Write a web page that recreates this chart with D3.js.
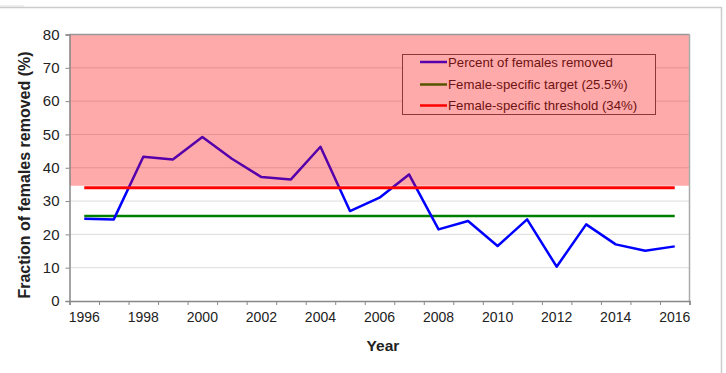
<!DOCTYPE html>
<html><head><meta charset="utf-8">
<script src="https://d3js.org/d3.v7.min.js"></script>
<style>body{margin:0;background:#fff}svg{display:block;font-family:"Liberation Sans",Arial,sans-serif}</style>
</head><body><svg id="c" width="726" height="373"></svg>
<script>
const years = [1996,1997,1998,1999,2000,2001,2002,2003,2004,2005,2006,2007,2008,2009,2010,2011,2012,2013,2014,2015,2016];
const removed = [24.7,24.5,43.3,42.5,49.2,42.7,37.2,36.5,46.3,27.0,31.0,38.0,21.5,24.0,16.5,24.5,10.3,23.0,17.0,15.1,16.4];
const target = 25.5;
const threshold = 34;
const yTicks = [0,10,20,30,40,50,60,70,80];
const xLabels = [1996,1998,2000,2002,2004,2006,2008,2010,2012,2014,2016];
const legendLabels = ["Percent of females removed","Female-specific target (25.5%)","Female-specific threshold (34%)"];

const svg = d3.select("#c");
const L = 69.5, R = 689.5, T = 34.5, B = 301;
const x = d3.scaleBand().domain(years).range([L, R]).padding(0);
const xb = d3.scaleLinear().domain([0, years.length]).range([L, R]);
const y = d3.scaleLinear().domain([0, 80]).range([B, T]);
const cx = d => x(d) + x.bandwidth() / 2;

// outer frame
svg.append("line").attr("x1",0).attr("x2",722).attr("y1",7.5).attr("y2",7.5).attr("stroke","#ccc").attr("stroke-width",1.5);
svg.append("line").attr("x1",0).attr("x2",24).attr("y1",6).attr("y2",6).attr("stroke","#ddd").attr("stroke-width",1);
svg.append("line").attr("x1",721.5).attr("x2",721.5).attr("y1",7).attr("y2",373).attr("stroke","#ccc").attr("stroke-width",1.5);

// gridlines
svg.append("g").selectAll("line").data(yTicks.filter(v => v > 0 && v < 80)).join("line")
  .attr("x1", L).attr("x2", R).attr("y1", d => y(d)).attr("y2", d => y(d))
  .attr("stroke", "#dcdcdc").attr("stroke-width", 1);

// target line
svg.append("line").attr("x1", cx(years[0])).attr("x2", cx(years[years.length-1]))
  .attr("y1", y(target)).attr("y2", y(target)).attr("stroke", "#008000").attr("stroke-width", 2.5);

// data line
svg.append("path").datum(years.map((yr,i)=>[yr, removed[i]]))
  .attr("fill","none").attr("stroke","#0000ff").attr("stroke-width",2.5).attr("stroke-linejoin","round")
  .attr("d", d3.line().x(d => cx(d[0])).y(d => y(d[1])));

// legend
const lg = svg.append("g");
lg.append("rect").attr("x",402.5).attr("y",54.5).attr("width",253).attr("height",60)
  .attr("fill","#fff").attr("stroke","#555").attr("stroke-width",1);
const lgColors = ["#0000ff","#008000","#ff0000"];
const lgRows = [62, 84.5, 105.5];
legendLabels.forEach((t,i) => {
  const yy = lgRows[i];
  lg.append("line").attr("x1",420).attr("x2",447).attr("y1",yy).attr("y2",yy)
    .attr("stroke",lgColors[i]).attr("stroke-width",2.5);
  lg.append("text").attr("x",448).attr("y",yy+4.8).attr("font-size",13.2).attr("fill","#222").text(t);
});

// threshold line
svg.append("line").attr("x1", cx(years[0])).attr("x2", cx(years[years.length-1]))
  .attr("y1", y(threshold)).attr("y2", y(threshold)).attr("stroke", "#ff0000").attr("stroke-width", 3);

// pink overlay
svg.append("rect").attr("x", L).attr("y", T).attr("width", R - L).attr("height", y(34.6) - T)
  .attr("fill", "#ff0000").attr("fill-opacity", 0.333);

// plot border top/right
svg.append("line").attr("x1",L).attr("x2",R).attr("y1",T).attr("y2",T).attr("stroke","#999").attr("stroke-width",1.5);
svg.append("line").attr("x1",R).attr("x2",R).attr("y1",T).attr("y2",B).attr("stroke","#aaa").attr("stroke-width",1.5);

// y axis
const ya = svg.append("g").attr("transform",`translate(${L},0)`)
  .call(d3.axisLeft(y).tickValues(yTicks).tickSize(4).tickPadding(6));
ya.select(".domain").attr("stroke","#888").attr("stroke-width",1.5);
ya.selectAll(".tick line").attr("stroke","#888");
ya.selectAll("text").attr("font-size",15).attr("fill","#222").attr("font-family","Liberation Sans, Arial, sans-serif");

// x axis: tick marks at band boundaries
const xa = svg.append("g").attr("transform",`translate(0,${B})`)
  .call(d3.axisBottom(xb).tickValues(d3.range(0, years.length+1)).tickSize(4).tickFormat(""));
xa.select(".domain").attr("stroke","#888").attr("stroke-width",1.5);
xa.selectAll(".tick line").attr("stroke","#888");
const xl = svg.append("g").attr("transform",`translate(0,${B})`)
  .call(d3.axisBottom(x).tickValues(xLabels).tickSize(0).tickPadding(11));
xl.select(".domain").remove();
xl.selectAll("text").attr("font-size",14).attr("fill","#222").attr("font-family","Liberation Sans, Arial, sans-serif");

// titles
svg.append("text").attr("x",383).attr("y",351).attr("text-anchor","middle")
  .attr("font-size",15.5).attr("font-weight","bold").attr("fill","#222").text("Year");
svg.append("text").attr("transform","translate(30,175) rotate(-90)").attr("text-anchor","middle")
  .attr("font-size",16).attr("font-weight","bold").attr("fill","#222").text("Fraction of females removed (%)");
</script></body></html>
